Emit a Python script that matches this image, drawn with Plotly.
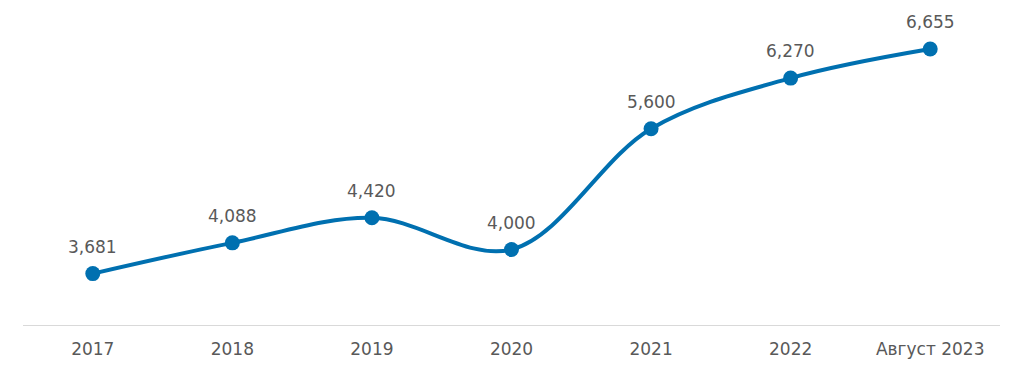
import plotly.graph_objects as go

categories = ["2017", "2018", "2019", "2020", "2021", "2022", "Август 2023"]
values = [3681, 4088, 4420, 4000, 5600, 6270, 6655]
labels = ["3,681", "4,088", "4,420", "4,000", "5,600", "6,270", "6,655"]

LINE = "#0070B0"
GREY = "#595959"
FONT = "DejaVu Sans"

fig = go.Figure()
fig.add_trace(go.Scatter(
    x=categories, y=values, mode="lines+markers",
    line=dict(color=LINE, width=4, shape="spline", smoothing=1),
    marker=dict(color=LINE, size=15),
    hoverinfo="skip",
))
for i, (v, t) in enumerate(zip(values, labels)):
    fig.add_annotation(x=i, y=v, xref="x", yref="y", text=t, showarrow=False,
                       yshift=27, font=dict(family=FONT, size=17, color=GREY))

fig.update_layout(
    width=1016, height=364,
    margin=dict(l=15, r=24, t=15, b=47, autoexpand=False),
    plot_bgcolor="white", paper_bgcolor="white",
    showlegend=False,
    font=dict(family=FONT, size=17, color=GREY),
)
fig.update_xaxes(
    type="category", range=[-0.5, 6.5], showgrid=False, zeroline=False,
    showline=True, linecolor="#D9D9D9", linewidth=1, ticks="",
    tickfont=dict(family=FONT, size=17, color=GREY), automargin=False,
    ticklabelstandoff=9,
)
fig.update_yaxes(range=[3000, 7000], visible=False, showgrid=False, zeroline=False)

fig.write_html("out.html")
